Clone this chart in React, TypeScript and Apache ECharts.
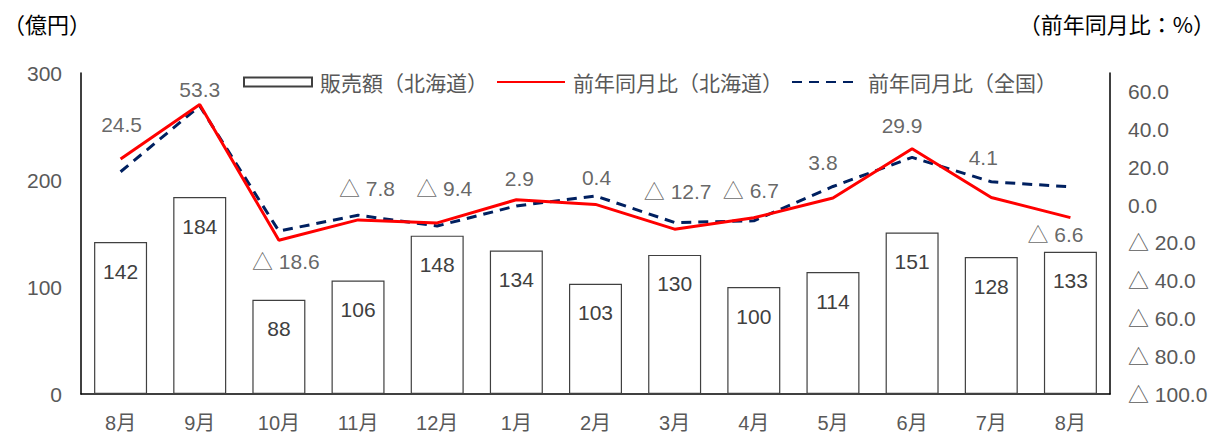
import React, { useEffect, useRef } from "react";
import * as echarts from "echarts";

const categories = ["8月", "9月", "10月", "11月", "12月", "1月", "2月", "3月", "4月", "5月", "6月", "7月", "8月"];
const salesHokkaido = [142, 184, 88, 106, 148, 134, 103, 130, 100, 114, 151, 128, 133];
const yoyHokkaido = [24.5, 53.3, -18.6, -7.8, -9.4, 2.9, 0.4, -12.7, -6.7, 3.8, 29.9, 4.1, -6.6];
const yoyNational = [17.7, 52.5, -13.7, -5.3, -11.0, -0.4, 4.9, -9.2, -8.3, 9.9, 25.3, 12.4, 9.7];
const leftTicks = { min: 0, max: 300, interval: 100 };
const rightTicks = { min: -100, max: 70, interval: 20 };

const seriesNames = ["販売額（北海道）", "前年同月比（北海道）", "前年同月比（全国）"];

// label placement offsets (styling only)
const labelOffsets: number[][] = [
  [1, -34], [0, -15], [7, 21], [9, -31], [7, -34], [3, -21], [1, -27],
  [3, -38], [-3, -27], [-10, -36], [-10, -23], [-8, -40], [-15, 17],
];

const FONT = "'Noto Sans CJK JP', sans-serif";
const NUMFONT = "'Liberation Sans', 'Noto Sans CJK JP', sans-serif";
const GRAY = "#595959";
const DARK = "#404040";

const fmtPct = (v: number) => (v < 0 ? `△ ${Math.abs(v).toFixed(1)}` : v.toFixed(1));

export default function App() {
  const ref = useRef<HTMLDivElement>(null);
  useEffect(() => {
    if (!ref.current) return;
    const chart = echarts.init(ref.current, undefined, { renderer: "svg" });
    chart.setOption({
      animation: false,
      backgroundColor: "#ffffff",
      textStyle: { fontFamily: FONT },
      grid: { left: 81, right: 105, top: 73, bottom: 40, containLabel: false },
      legend: {
        left: 238,
        top: 65,
        itemWidth: 68,
        itemHeight: 9,
        itemGap: 8,
        data: [
          { name: seriesNames[0], icon: "rect" },
          { name: seriesNames[1], itemStyle: { opacity: 0 } },
          { name: seriesNames[2], itemStyle: { opacity: 0 } },
        ],
        textStyle: { fontFamily: FONT, fontSize: 21, color: GRAY, lineHeight: 24, padding: [0, 0, 0, 3] },
      },
      graphic: [
        { type: "text", left: 3, top: 12, style: { text: "（億円）", font: `22px ${FONT}`, fill: "#000" } },
        { type: "text", right: 0, top: 12, style: { text: "（前年同月比：%）", font: `22px ${FONT}`, fill: "#000" } },
      ],
      xAxis: {
        type: "category",
        data: categories,
        axisLine: { lineStyle: { color: "#000", width: 1.5 } },
        axisTick: { show: false },
        axisLabel: { color: GRAY, fontSize: 20, lineHeight: 20, margin: 19, fontFamily: NUMFONT },
      },
      yAxis: [
        {
          type: "value",
          min: leftTicks.min,
          max: leftTicks.max,
          interval: leftTicks.interval,
          axisLine: { show: true, lineStyle: { color: "#000", width: 1.5 } },
          axisTick: { show: false },
          splitLine: { show: false },
          axisLabel: { color: GRAY, fontSize: 21, margin: 19, fontFamily: NUMFONT },
        },
        {
          type: "value",
          min: rightTicks.min,
          max: rightTicks.max,
          interval: rightTicks.interval,
          position: "right",
          axisLine: { show: true, lineStyle: { color: "#000", width: 1.5 } },
          axisTick: { show: false },
          splitLine: { show: false },
          axisLabel: {
            color: GRAY,
            fontSize: 21,
            margin: 18,
            fontFamily: NUMFONT,
            showMaxLabel: false,
            formatter: (v: number) => (v > 60 ? "" : fmtPct(v)),
          },
        },
      ],
      series: [
        {
          name: seriesNames[0],
          type: "bar",
          data: salesHokkaido,
          barWidth: 53,
          itemStyle: { color: "#ffffff", borderColor: DARK, borderWidth: 1.2 },
          label: {
            show: true,
            position: "insideTop",
            distance: 18,
            color: DARK,
            fontSize: 21,
            lineHeight: 22,
            fontFamily: NUMFONT,
          },
          z: 1,
        },
        {
          name: seriesNames[1],
          type: "line",
          yAxisIndex: 1,
          data: yoyHokkaido,
          symbol: "none",
          lineStyle: { color: "#ff0000", width: 3 },
          itemStyle: { color: "#ff0000" },
          z: 4,
        },
        {
          name: seriesNames[2],
          type: "line",
          yAxisIndex: 1,
          data: yoyNational,
          symbol: "none",
          lineStyle: { color: "#002060", width: 3, type: [10, 7] },
          itemStyle: { color: "#002060" },
          z: 3,
        },
        {
          name: "labels",
          type: "scatter",
          yAxisIndex: 1,
          silent: true,
          symbolSize: 1,
          itemStyle: { color: "rgba(0,0,0,0)" },
          data: yoyHokkaido.map((v, i) => ({ value: v, label: { offset: labelOffsets[i] } })),
          label: {
            show: true,
            position: "inside",
            color: DARK,
            fontSize: 21,
            fontFamily: NUMFONT,
            formatter: (p: any) => fmtPct(p.value),
          },
          z: 5,
        },
      ],
    });
    return () => chart.dispose();
  }, []);
  return <div ref={ref} style={{ position: "fixed", left: 0, top: 0, width: 1215, height: 434 }} />;
}
